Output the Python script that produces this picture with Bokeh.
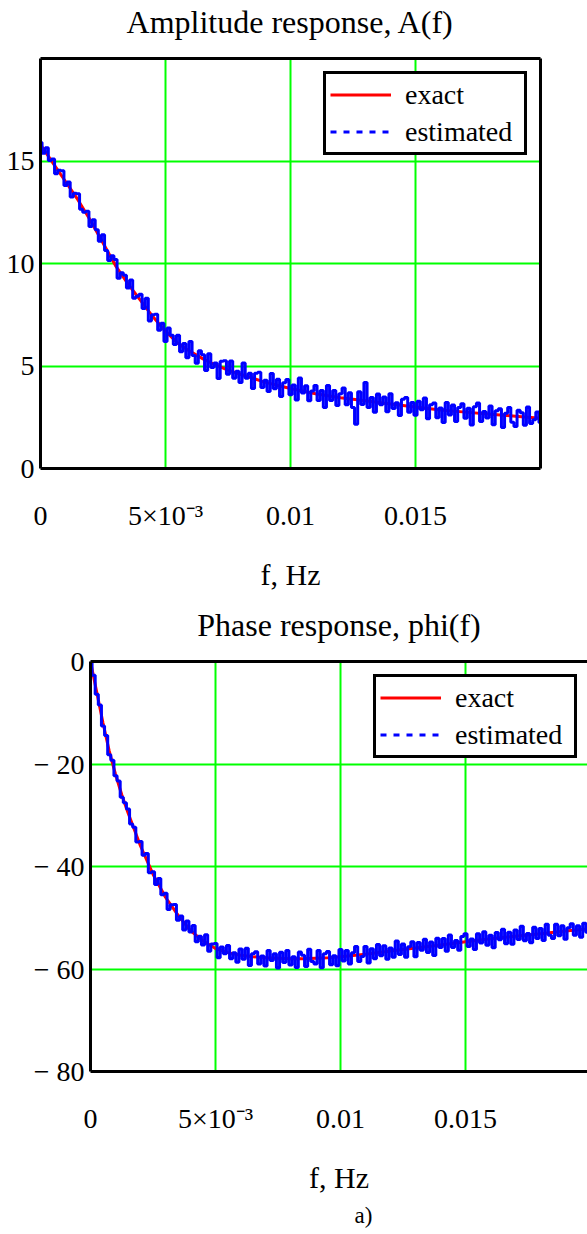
import numpy as np
from bokeh.plotting import figure
from bokeh.models import FixedTicker, Legend, LegendItem, Title, LinearAxis, Range1d
from bokeh.embed import file_html
from bokeh.resources import INLINE

FONT = "Liberation Serif"
GREEN = "#00FF00"
RED = "#FF0000"
BLUE = "#0000FF"

# ---------------- data ----------------
x_ticks = [0, 0.005, 0.01, 0.015]
x_tick_labels = ["0", "5×10⁻³", "0.01", "0.015"]

amp_y_ticks = [0, 5, 10, 15]
amp_y_labels = ["0", "5", "10", "15"]

phase_y_ticks = [0, -20, -40, -60, -80]
phase_y_labels = ["0", "− 20", "− 40", "− 60", "− 80"]

f_amp_exact = [0.0, 0.0005, 0.001, 0.0015, 0.002, 0.0025, 0.003, 0.0035, 0.004, 0.0045,
               0.005, 0.0055, 0.006, 0.0065, 0.007, 0.0075, 0.008, 0.0085, 0.009, 0.0095,
               0.01, 0.011, 0.012, 0.013, 0.014, 0.015, 0.016, 0.017, 0.018, 0.019, 0.02]
amp_exact = [15.8, 14.9, 14.0, 13.1, 12.1, 11.0, 9.9, 9.0, 8.2, 7.4,
             6.7, 6.1, 5.7, 5.35, 5.05, 4.8, 4.6, 4.4, 4.2, 4.05,
             3.9, 3.65, 3.45, 3.3, 3.15, 3.0, 2.85, 2.75, 2.65, 2.55, 2.45]

f_phase_exact = [0.0, 0.00025, 0.0005, 0.00075, 0.001, 0.00125, 0.0015, 0.002, 0.0025, 0.003,
                 0.0035, 0.004, 0.0045, 0.005, 0.0055, 0.006, 0.0065, 0.007, 0.0075, 0.008,
                 0.0085, 0.009, 0.0095, 0.01, 0.011, 0.012, 0.013, 0.014, 0.015, 0.016,
                 0.017, 0.018, 0.019, 0.02]
phase_exact = [0, -6, -12, -17.5, -22, -26, -29.5, -36, -41.5, -46,
               -49.5, -52.5, -54.5, -56, -56.8, -57.3, -57.6, -57.8, -57.9, -58.0,
               -58.0, -57.9, -57.8, -57.6, -57.1, -56.5, -55.9, -55.3, -54.7, -54.1,
               -53.6, -53.1, -52.6, -52.15]

EST_STEP = 0.000125  # frequency spacing of the estimated samples, Hz

amp_est = [
    15.9, 15.38, 15.65, 15.03, 15.1, 14.38, 14.55, 14.53,
    13.8, 13.98, 13.25, 13.43, 13.4, 12.65, 12.5, 12.55,
    11.8, 12.13, 11.65, 11.08, 11.4, 10.63, 10.15, 10.38,
    10.2, 9.28, 9.55, 9.43, 8.8, 9.2, 8.3, 8.4,
    8.5, 7.8, 8.3, 7.2, 7.5, 7.53, 6.75, 7.08,
    6.2, 6.85, 6.5, 6.05, 6.5, 5.7, 6.1, 5.4,
    6.2, 5.51, 5.13, 5.74, 5.55, 4.78, 5.6, 4.93,
    5.15, 4.39, 5.23, 5.26, 4.6, 5.25, 4.4, 4.75,
    4.2, 5.15, 4.4, 4.65, 3.9, 4.65, 4.7, 3.95,
    4.3, 3.76, 4.63, 3.89, 4.35, 3.51, 4.18, 4.34,
    3.6, 4.07, 3.34, 4.41, 3.68, 4.04, 3.31, 3.78,
    4.05, 3.32, 3.8, 2.97, 4.05, 3.32, 3.8, 3.07,
    3.65, 3.93, 3.11, 3.69, 2.98, 2.16, 3.74, 3.12,
    4.2, 2.98, 3.46, 2.74, 3.63, 3.11, 3.49, 2.77,
    3.65, 2.93, 3.21, 2.59, 3.38, 3.46, 2.74, 3.22,
    2.6, 3.28, 2.86, 3.44, 2.43, 3.11, 3.19, 2.47,
    2.95, 2.24, 3.22, 2.61, 3.1, 2.29, 2.98, 3.16,
    2.45, 2.94, 2.12, 3.01, 3.2, 2.29, 2.78, 2.46,
    3.05, 2.14, 2.82, 2.91, 2.0, 2.69, 2.98, 2.26,
    2.05, 2.84, 2.72, 2.11, 3.0, 2.19, 2.38, 2.76,
    2.25]

phase_est = [
    0, -2.7, -6.4, -8.5, -12.6, -14.45, -18.2, -19.25,
    -22.3, -23.3, -26.5, -27.55, -28.8, -31.7, -32.35, -35.2,
    -35.1, -37.8, -37.45, -41.2, -41.0, -43.5, -42.35, -45.5,
    -45.2, -48.4, -47.45, -47.4, -50.5, -49.65, -52.4, -50.65,
    -52.8, -51.5, -54.7, -53.6, -55.3, -53.3, -56.55, -55.1,
    -55.0, -57.8, -55.7, -57.0, -55.4, -58.0, -56.85, -58.7,
    -56.1, -58.1, -55.95, -59.3, -57.0, -56.65, -59.0, -57.45,
    -59.4, -56.4, -58.35, -57.0, -59.8, -56.75, -58.75, -56.4,
    -59.2, -57.6, -59.7, -56.7, -57.3, -59.5, -56.15, -58.55,
    -59.0, -56.4, -59.75, -57.0, -56.6, -59.15, -57.4, -59.35,
    -56.2, -58.44, -56.38, -59.01, -56.85, -55.59, -58.53, -57.56,
    -55.6, -58.83, -56.05, -57.98, -55.2, -57.43, -55.45, -58.08,
    -55.9, -57.73, -54.55, -57.18, -55.1, -57.73, -55.65, -54.68,
    -57.6, -54.83, -56.35, -54.18, -56.8, -54.73, -57.35, -53.98,
    -55.8, -54.03, -56.55, -53.38, -55.8, -54.43, -56.35, -53.68,
    -53.1, -55.63, -54.15, -56.18, -53.1, -54.93, -52.75, -55.38,
    -53.4, -55.84, -52.88, -54.31, -52.25, -55.09, -52.83, -55.16,
    -52.4, -54.24, -51.68, -54.51, -53.05, -54.89, -51.83, -54.06,
    -52.1, -54.44, -51.28, -53.41, -54.05, -51.29, -53.53, -51.56,
    -54.2, -51.94, -51.19, -53.43, -51.58, -53.82, -51.06, -52.81,
    -51.25]

f_est = [i * EST_STEP for i in range(len(amp_est))]


def frame_axis(p, place, label=None):
    ax = LinearAxis(ticker=FixedTicker(ticks=[]), axis_line_color="black", axis_line_width=3,
                    major_tick_line_color=None, minor_tick_line_color=None,
                    major_label_standoff=0, major_tick_out=0, major_tick_in=0,
                    major_label_text_font_size="0px")
    if label:
        ax.axis_label = label
        ax.axis_label_text_font = FONT
        ax.axis_label_text_font_size = "32px"
        ax.axis_label_text_font_style = "normal"
        ax.axis_label_text_color = "black"
        ax.axis_label_standoff = 19
    p.add_layout(ax, place)


def make_plot(title, width, height, xr, yr, yticks, ylabels, borders, ystandoff,
              xstandoff, xlabel_standoff, add_right):
    p = figure(width=width, height=height, x_range=Range1d(*xr), y_range=Range1d(*yr),
               title=None, output_backend="svg", toolbar_location=None,
               min_border_left=borders[0], min_border_right=borders[1],
               min_border_top=borders[2], min_border_bottom=borders[3])
    p.outline_line_color = None
    p.background_fill_color = "white"
    p.border_fill_color = "white"

    xa = p.below[0]
    xa.ticker = FixedTicker(ticks=x_ticks)
    xa.major_label_overrides = dict(zip(x_ticks, x_tick_labels))
    xa.axis_label = "f, Hz"
    xa.axis_label_text_font = FONT
    xa.axis_label_text_font_size = "30px"
    xa.axis_label_text_font_style = "normal"
    xa.axis_label_text_color = "black"
    xa.axis_label_standoff = xlabel_standoff

    ya = p.left[0]
    ya.ticker = FixedTicker(ticks=yticks)
    ya.major_label_overrides = dict(zip(yticks, ylabels))

    for ax, so in ((xa, xstandoff), (ya, ystandoff)):
        ax.axis_line_color = "black"
        ax.axis_line_width = 3
        ax.major_tick_line_color = None
        ax.minor_tick_line_color = None
        ax.major_tick_out = 0
        ax.major_tick_in = 0
        ax.major_label_text_font = FONT
        ax.major_label_text_font_size = "28px"
        ax.major_label_text_color = "black"
        ax.major_label_standoff = so

    for g in (p.xgrid, p.ygrid):
        g.grid_line_color = GREEN
        g.grid_line_width = 2
        g.grid_line_alpha = 1.0

    frame_axis(p, "above", title)
    if add_right:
        frame_axis(p, "right")
    return p


def add_curves(p, fx, yx, fe, ye):
    r_exact = p.line(fx, yx, line_color=RED, line_width=3)
    p.step(fe, ye, mode="center", line_color=BLUE, line_width=3)
    # sample line used only for the legend swatch (lies outside the visible range)
    r_leg = p.line([-1.0, -0.9], [-500, -500], line_color=BLUE, line_width=3, line_dash="6 7")
    legend = Legend(items=[LegendItem(label="exact", renderers=[r_exact]),
                           LegendItem(label="estimated", renderers=[r_leg])],
                    location=(283, 313), orientation="vertical",
                    border_line_color="black", border_line_width=3, border_line_alpha=1.0,
                    background_fill_color="white", background_fill_alpha=1.0,
                    label_text_font=FONT, label_text_font_size="28px",
                    label_text_color="black",
                    glyph_width=61, glyph_height=33, label_height=33, label_width=115,
                    label_standoff=14, padding=4, spacing=4, margin=0)
    p.add_layout(legend)


p1 = make_plot("Amplitude response, A(f)", 587, 603, (0, 0.02), (0, 20),
               amp_y_ticks, amp_y_labels, (40, 47, 58, 135), 6, 31, 24, True)
add_curves(p1, f_amp_exact, amp_exact, f_est, amp_est)

p2 = make_plot("Phase response, phi(f)", 587, 631, (0, 0.01988), (-80, 0),
               phase_y_ticks, phase_y_labels, (90, 0, 58, 163), 6, 31, 24, False)
add_curves(p2, f_phase_exact, phase_exact, f_est, phase_est)

cap = Title(text="a)", align="left", offset=264, text_font=FONT, text_font_size="23px",
            text_font_style="normal", text_color="black", standoff=8)
p2.add_layout(cap, "below")

open("out.html", "w").write(file_html([p1, p2], INLINE))
